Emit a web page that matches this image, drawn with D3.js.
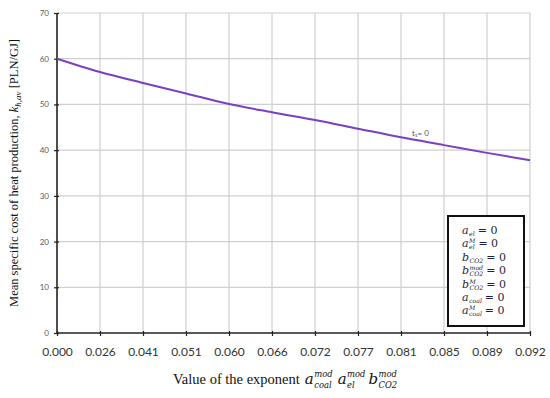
<!DOCTYPE html>
<html><head><meta charset="utf-8">
<script src="https://cdn.jsdelivr.net/npm/d3@7"></script>
<style>body{margin:0;background:#fff}svg{display:block}</style>
</head><body>
<svg id="c" width="550" height="398"></svg>
<script>
const categories = ["0.000","0.026","0.041","0.051","0.060","0.066","0.072","0.077","0.081","0.085","0.089","0.092"];
const values = [60.0,57.1,54.7,52.4,50.1,48.3,46.6,44.7,42.8,41.1,39.4,37.8];
const yTicks = [0,10,20,30,40,50,60,70];
const seriesLabel = "t\u2081= 0";
const legendLines = [
  {b:"a", sup:"", sub:"el"},
  {b:"a", sup:"M", sub:"el"},
  {b:"b", sup:"", sub:"CO2"},
  {b:"b", sup:"mod", sub:"CO2"},
  {b:"b", sup:"M", sub:"CO2"},
  {b:"a", sup:"", sub:"coal"},
  {b:"a", sup:"M", sub:"coal"}
];

const svg = d3.select("#c");
const L=57, R=530, T=13, B=333;
const x = d3.scalePoint().domain(categories).range([L,R]);
const y = d3.scaleLinear().domain([0,70]).range([B,T]);

// grid
svg.append("g").selectAll("line").data(yTicks.filter(d=>d>0)).join("line")
  .attr("x1",L).attr("x2",R).attr("y1",d=>y(d)).attr("y2",d=>y(d))
  .attr("stroke","#cfcfcf").attr("stroke-width",1.2);
svg.append("g").selectAll("line").data(categories.slice(1)).join("line")
  .attr("x1",d=>x(d)).attr("x2",d=>x(d)).attr("y1",T).attr("y2",B)
  .attr("stroke","#cfcfcf").attr("stroke-width",1.2);

// axes
const yAxis = svg.append("g").attr("transform",`translate(${L},0)`)
  .call(d3.axisLeft(y).tickValues(yTicks).tickSize(3).tickFormat(d3.format("d")));
yAxis.select(".domain").attr("stroke","#222").attr("stroke-width",1.6).attr("d",`M0,${T}V${B}`);
yAxis.selectAll(".tick line").attr("stroke","#222").attr("stroke-width",1.2).attr("x1",2);
yAxis.selectAll(".tick text").attr("font-family","Lato, 'Liberation Sans', sans-serif").attr("font-size",8).attr("fill","#595959").attr("x",-8);

const xAxis = svg.append("g").attr("transform",`translate(0,${B})`)
  .call(d3.axisBottom(x).tickSize(3));
xAxis.select(".domain").attr("stroke","#222").attr("stroke-width",1.6).attr("d",`M${L},0H${R}`);
xAxis.selectAll(".tick line").attr("stroke","#222").attr("stroke-width",1.2).attr("y1",-2);
xAxis.selectAll(".tick text").attr("font-family","Lato, 'Liberation Sans', sans-serif").attr("font-size",12).attr("fill","#333").attr("y",14);

// line
const line = d3.line().x((d,i)=>x(categories[i])).y(d=>y(d)).curve(d3.curveMonotoneX);
svg.append("path").datum(values).attr("d",line).attr("fill","none")
  .attr("stroke","#7b3fc2").attr("stroke-width",2);

// series label
svg.append("text").attr("x",412).attr("y",136)
  .attr("font-family","Lato, 'Liberation Sans', sans-serif").attr("font-size",8).attr("fill","#555")
  .text(seriesLabel);

// math helper: base with stacked sup/sub
const mathFont = "'DejaVu Serif', 'Liberation Serif', serif";
function mathTerm(g, x0, yb, base, sup, sub, fs, color, ss, supOff, subOff){
  const t = g.append("text").attr("x",x0).attr("y",yb).attr("font-family",mathFont)
    .attr("font-style","italic").attr("font-size",fs).attr("fill",color).text(base);
  const w = t.node().getComputedTextLength();
  let mw = 0;
  if(sup){
    const s = g.append("text").attr("x",x0+w+0.5).attr("y",yb-fs*supOff).attr("font-family",mathFont)
      .attr("font-style","italic").attr("font-size",fs*ss).attr("fill",color).text(sup);
    mw = Math.max(mw, s.node().getComputedTextLength());
  }
  if(sub){
    const s = g.append("text").attr("x",x0+w+0.5).attr("y",yb+fs*subOff).attr("font-family",mathFont)
      .attr("font-style","italic").attr("font-size",fs*ss).attr("fill",color).text(sub);
    mw = Math.max(mw, s.node().getComputedTextLength());
  }
  return x0 + w + 0.5 + mw;
}

// legend box
const lg = svg.append("g");
lg.append("rect").attr("x",448).attr("y",216).attr("width",76).attr("height",110)
  .attr("fill","#fff").attr("stroke","#111").attr("stroke-width",2);
const lineYs = [234,247,261,274,288,301,314];
legendLines.forEach((d,i)=>{
  const ex = mathTerm(lg, 462, lineYs[i], d.b, d.sup, d.sub, 11, "#1f1f3a", 0.56, 0.36, 0.2);
  lg.append("text").attr("x",ex+3).attr("y",lineYs[i]).attr("font-family",mathFont)
    .attr("font-size",11).attr("fill","#1f1f3a").text("= 0");
});

// x title
const xt = svg.append("g");
const xtxt = xt.append("text").attr("x",173).attr("y",384).attr("font-family","'Liberation Serif', serif")
  .attr("font-size",14.5).attr("fill","#111").text("Value of the exponent");
let cx = 173 + xtxt.node().getComputedTextLength() + 5;
cx = mathTerm(xt, cx, 384, "a", "mod", "coal", 15, "#111", 0.56, 0.45, 0.28) + 5;
cx = mathTerm(xt, cx, 384, "a", "mod", "el", 15, "#111", 0.56, 0.45, 0.28) + 3;
cx = mathTerm(xt, cx, 384, "b", "mod", "CO2", 15, "#111", 0.56, 0.45, 0.28);

// y title
const yt = svg.append("text").attr("transform","translate(18,173) rotate(-90)")
  .attr("text-anchor","middle").attr("font-family","'Liberation Serif', serif")
  .attr("font-size",12.5).attr("fill","#111");
yt.append("tspan").text("Mean specific cost of heat production, ");
yt.append("tspan").attr("font-style","italic").text("k");
yt.append("tspan").attr("font-style","italic").attr("font-size",9).attr("dy",3).text("h,av");
yt.append("tspan").attr("dy",-3).text(" [PLN/GJ]");
</script>
</body></html>
